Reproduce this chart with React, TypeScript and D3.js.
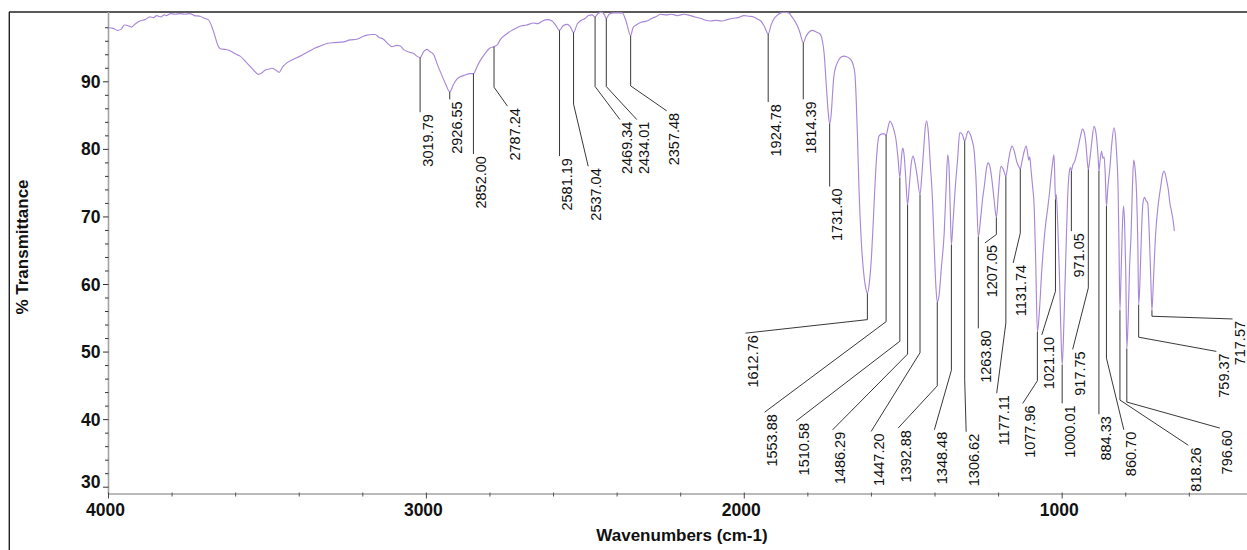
import React from "react";
import * as d3 from "d3";

// IR spectrum: [wavenumber (cm-1), % transmittance]
const spectrum: [number, number][] = [
  [4000, 98.0], [3985, 97.9], [3972, 97.6], [3960, 97.8], [3950, 98.4], [3938, 98.3],
  [3928, 98.1], [3915, 98.6], [3901, 99.0], [3885, 99.2], [3870, 99.6], [3858, 99.5],
  [3849, 99.8], [3835, 99.6], [3825, 99.9], [3817, 99.8], [3805, 100.1], [3790, 100.0],
  [3775, 100.1], [3760, 100.0], [3744, 100.1], [3730, 99.8], [3712, 99.7], [3698, 99.4],
  [3686, 99.2], [3670, 97.5], [3655, 95.3], [3649, 94.9], [3635, 94.8], [3618, 94.6],
  [3600, 94.1], [3586, 93.8], [3565, 92.8], [3545, 91.8], [3529, 91.1], [3518, 91.3],
  [3508, 91.7], [3495, 91.9], [3487, 92.0], [3475, 91.8], [3463, 91.4], [3452, 92.2],
  [3439, 92.8], [3420, 93.3], [3397, 93.8], [3370, 94.5], [3350, 95.0], [3334, 95.3],
  [3310, 95.7], [3290, 95.8], [3261, 95.9], [3240, 96.2], [3219, 96.3], [3200, 96.7],
  [3187, 96.9], [3170, 97.0], [3161, 97.0], [3150, 96.6], [3135, 96.3], [3120, 95.6],
  [3109, 95.2], [3093, 95.4], [3082, 95.3], [3072, 94.8], [3055, 94.4], [3040, 94.2],
  [3030, 93.8], [3019.79, 93.6], [3008, 94.5], [2998, 94.8], [2990, 94.5], [2978, 94.1],
  [2965, 92.5], [2950, 90.8], [2938, 89.5], [2926.55, 88.5], [2915, 89.6], [2904, 90.4],
  [2890, 90.8], [2878, 91.0], [2865, 91.2], [2852.0, 91.2], [2840, 92.3], [2831, 93.1],
  [2815, 94.2], [2800, 95.0], [2787.24, 95.2], [2775, 95.6], [2768, 96.2], [2750, 97.0],
  [2735, 97.5], [2715, 98.0], [2700, 98.3], [2685, 98.4], [2663, 98.7], [2650, 98.6],
  [2635, 99.0], [2620, 99.2], [2605, 99.0], [2595, 98.5], [2581.19, 97.6], [2570, 98.3],
  [2557, 98.5], [2548, 98.2], [2537.04, 97.3], [2525, 98.6], [2516, 99.0], [2500, 99.4],
  [2490, 99.8], [2479, 99.9], [2469.34, 99.6], [2460, 100.1], [2447, 100.3], [2440, 99.9],
  [2434.01, 99.4], [2425, 100.0], [2411, 100.2], [2395, 100.2], [2384, 100.2], [2372, 99.0],
  [2357.48, 96.8], [2350, 98.0], [2340, 98.4], [2325, 98.8], [2306, 99.0], [2290, 99.4],
  [2275, 99.7], [2264, 100.0], [2245, 99.9], [2230, 100.0], [2210, 99.8], [2190, 100.0],
  [2170, 99.8], [2155, 99.6], [2138, 99.4], [2120, 99.1], [2106, 99.0], [2090, 99.1],
  [2070, 99.0], [2054, 99.2], [2035, 99.4], [2020, 99.5], [2001, 99.8], [1985, 99.7],
  [1970, 99.6], [1959, 99.3], [1948, 99.0], [1938, 98.3], [1924.78, 97.1], [1915, 98.5],
  [1907, 99.3], [1895, 99.9], [1885, 100.2], [1875, 100.3], [1860, 100.2], [1850, 99.6],
  [1840, 98.9], [1833, 98.3], [1825, 97.3], [1814.39, 95.8], [1805, 96.8], [1795, 97.4],
  [1785, 97.6], [1775, 97.4], [1765, 97.2], [1760, 97.0], [1754, 96.0], [1749, 94.3],
  [1742, 89.5], [1736, 85.5], [1731.4, 83.8], [1726, 85.5], [1722, 88.5], [1718, 90.9],
  [1710, 92.5], [1702, 93.3], [1694, 93.7], [1686, 93.8], [1678, 93.7], [1670, 93.5],
  [1665, 93.3], [1658, 92.6], [1652, 91.2], [1648, 87.5], [1644, 82.0], [1639, 74.0],
  [1632, 66.5], [1625, 62.0], [1618, 59.5], [1612.76, 58.7], [1606, 60.5], [1600, 64.0],
  [1594, 69.5], [1588, 75.5], [1582, 80.0], [1576, 82.0], [1566, 82.3], [1560, 82.3],
  [1553.88, 82.1], [1547, 83.4], [1542, 84.2], [1536, 83.8], [1529, 82.8], [1523, 81.5],
  [1517, 79.0], [1510.58, 75.8], [1506, 78.5], [1502, 80.2], [1498, 79.5], [1493, 76.5],
  [1486.29, 71.8], [1481, 74.5], [1475, 77.8], [1469, 79.0], [1463, 78.0], [1456, 76.0],
  [1447.2, 73.3], [1441, 76.5], [1435, 80.5], [1430, 83.5], [1426, 84.2], [1421, 82.5],
  [1415, 78.0], [1408, 72.6], [1402, 65.0], [1397, 59.5], [1392.88, 57.4], [1387, 58.5],
  [1380, 62.5], [1371, 67.7], [1365, 74.5], [1360, 79.2], [1356, 77.5], [1352, 71.0],
  [1348.48, 65.9], [1343, 69.5], [1336, 74.5], [1329, 78.5], [1322, 82.5], [1314, 82.2],
  [1306.62, 81.2], [1301, 82.0], [1296, 82.7], [1290, 82.3], [1283, 81.3], [1277, 79.8],
  [1271, 75.5], [1263.8, 67.1], [1256, 70.0], [1250, 72.8], [1245, 74.5], [1238, 77.2],
  [1233, 78.0], [1227, 77.4], [1221, 75.5], [1214, 72.5], [1207.05, 69.9], [1200, 74.0],
  [1193, 77.5], [1187, 77.2], [1182, 76.6], [1177.11, 76.0], [1170, 78.0], [1163, 79.8],
  [1158, 80.5], [1151, 79.8], [1143, 78.2], [1137, 77.5], [1131.74, 77.1], [1126, 78.3],
  [1119, 79.8], [1113, 80.5], [1108, 79.2], [1105, 78.4], [1102, 78.9], [1098, 77.0],
  [1093, 74.5], [1088, 71.5], [1083, 63.0], [1077.96, 53.0], [1071, 56.5], [1065, 61.5],
  [1061, 64.2], [1053, 68.5], [1046, 71.1], [1040, 73.5], [1035, 76.0], [1030, 78.0],
  [1026, 79.2], [1023.5, 76.5], [1021.1, 72.6], [1018.5, 73.3], [1014, 69.0], [1009, 62.0],
  [1004.5, 54.0], [1000.01, 48.1], [996, 52.0], [992, 58.5], [988, 65.0], [983, 72.6],
  [978, 76.5], [974, 77.3], [971.05, 76.8], [967, 77.6], [960, 78.3], [951, 80.0],
  [943, 81.8], [936, 83.0], [930, 82.4], [925, 80.6], [921, 78.3], [917.75, 77.0],
  [913, 78.5], [907, 81.0], [900, 83.4], [895, 82.8], [890, 80.8], [886.5, 78.5],
  [884.33, 76.8], [881, 78.2], [876, 79.7], [872, 78.7], [868, 78.9], [864.5, 76.3],
  [860.7, 71.6], [856, 74.5], [850, 77.2], [844, 80.8], [837, 83.2], [832, 81.8],
  [828, 78.8], [824, 74.0], [821, 65.0], [818.26, 56.2], [815, 61.0], [811, 68.0],
  [807, 71.6], [803.5, 69.0], [800, 62.0], [796.6, 50.5], [792, 55.5], [788, 62.5],
  [783, 67.7], [779, 74.5], [775, 78.4], [771, 77.3], [766, 73.5], [762, 66.0],
  [759.37, 57.0], [756, 59.5], [751, 67.0], [746, 72.0], [741, 72.9], [736, 72.4],
  [731, 72.1], [726, 67.5], [721, 60.5], [717.57, 56.2], [713, 60.5], [706, 67.5],
  [698, 71.8], [690, 74.5], [684, 76.3], [680, 76.8], [676, 76.4], [671, 75.3],
  [666, 74.0], [661, 72.0], [656, 70.8], [651, 69.5], [647, 67.9],
];

// Labelled band positions (cm-1)
const peakWavenumbers = [
  3019.79, 2926.55, 2852.0, 2787.24, 2581.19, 2537.04, 2469.34, 2434.01, 2357.48,
  1924.78, 1814.39, 1731.4, 1612.76, 1553.88, 1510.58, 1486.29, 1447.2, 1392.88,
  1348.48, 1306.62, 1263.8, 1207.05, 1177.11, 1131.74, 1077.96, 1021.1, 1000.01,
  971.05, 917.75, 884.33, 860.7, 818.26, 796.6, 759.37, 717.57,
];

const yMajorTicks = [30, 40, 50, 60, 70, 80, 90];
const xMajorTicks = [4000, 3000, 2000, 1000];

// Leader-line routing for each band label, in data units:
// drop straight down to `elbow` (%T), then run to `to` ([cm-1, %T]) where the text starts.
const leaderLayout: Record<string, { elbow: number; to?: [number, number] }> = {
  "3019.79": { elbow: 85.5 },
  "2926.55": { elbow: 87.4 },
  "2852.00": { elbow: 79.3 },
  "2787.24": { elbow: 89.2, to: [2745, 86.4] },
  "2581.19": { elbow: 79.0 },
  "2537.04": { elbow: 86.7, to: [2491, 77.5] },
  "2469.34": { elbow: 89.3, to: [2391, 84.4] },
  "2434.01": { elbow: 89.3, to: [2338, 84.4] },
  "2357.48": { elbow: 89.4, to: [2244, 85.7] },
  "1924.78": { elbow: 87.0 },
  "1814.39": { elbow: 87.4 },
  "1731.40": { elbow: 74.5 },
  "1612.76": { elbow: 54.8, to: [1996, 52.8] },
  "1553.88": { elbow: 54.5, to: [1936, 41.1] },
  "1510.58": { elbow: 51.6, to: [1837, 39.8] },
  "1486.29": { elbow: 49.7, to: [1722, 38.5] },
  "1447.20": { elbow: 49.9, to: [1601, 38.25] },
  "1392.88": { elbow: 45.0, to: [1516, 38.75] },
  "1348.48": { elbow: 47.3, to: [1402, 38.5] },
  "1306.62": { elbow: 45.9, to: [1302, 38.2] },
  "1263.80": { elbow: 53.5 },
  "1207.05": { elbow: 67.4, to: [1243, 66.15] },
  "1177.11": { elbow: 54.3, to: [1206, 43.9] },
  "1131.74": { elbow: 67.6, to: [1154, 63.2] },
  "1077.96": { elbow: 45.75, to: [1124, 42.4] },
  "1021.10": { elbow: 59.0, to: [1064, 52.55] },
  "1000.01": { elbow: 42.4 },
  "971.05": { elbow: 67.9 },
  "917.75": { elbow: 59.5, to: [967, 50.4] },
  "884.33": { elbow: 40.8 },
  "860.70": { elbow: 49.1, to: [806, 38.5] },
  "818.26": { elbow: 42.9, to: [603, 36.2] },
  "796.60": { elbow: 42.6, to: [504, 38.75] },
  "759.37": { elbow: 52.2, to: [515, 50.1] },
  "717.57": { elbow: 55.3, to: [464, 54.9] },
};

const W = 1247;
const H = 550;
const FONT = "'Liberation Sans', Arial, Helvetica, sans-serif";

export default function App() {
  const x = d3.scaleLinear().domain([4000, 400]).range([108.5, 1252.9]);
  const y = d3.scaleLinear().domain([30, 90]).range([487.2, 81.8]);

  const plotTop = y(100.33);
  const plotBottom = y(28.99);
  const axisX = x(4000);

  const line = d3
    .line<[number, number]>()
    .x((d) => x(d[0]))
    .y((d) => y(d[1]))
    .curve(d3.curveMonotoneX);

  const tAt = new Map(spectrum.map((d) => [d[0], d[1]]));

  const yMinor = d3.range(30, 101, 2).filter((v) => v % 10 !== 0);
  const xMinor = d3.range(4000, 399, -200).filter((v) => v % 1000 !== 0);

  return (
    <svg
      width={W}
      height={H}
      style={{ position: "absolute", left: 0, top: 0, background: "#fff" }}
      fontFamily={FONT}
    >
      <rect x={0} y={0} width={W} height={H} fill="#fff" />
      {/* outer frame */}
      <line x1={9.3} y1={12} x2={9.3} y2={H} stroke="#222" strokeWidth={1.4} />
      <line x1={9} y1={12} x2={W} y2={12} stroke="#222" strokeWidth={1.4} />

      {/* axes */}
      <line x1={axisX} y1={plotTop} x2={axisX} y2={plotBottom} stroke="#a3a3a3" strokeWidth={1.6} />
      <line x1={axisX} y1={plotBottom} x2={W} y2={plotBottom} stroke="#a3a3a3" strokeWidth={1.6} />

      {yMinor.map((v) => (
        <line key={`ym${v}`} x1={axisX - 3.5} x2={axisX} y1={y(v)} y2={y(v)} stroke="#333" strokeWidth={1} />
      ))}
      {yMajorTicks.map((v) => (
        <g key={`yM${v}`}>
          <line x1={axisX - 5.5} x2={axisX} y1={y(v)} y2={y(v)} stroke="#333" strokeWidth={1} />
          <text
            x={axisX - 8}
            y={y(v) + (v === 30 ? 1 : 6)}
            textAnchor="end"
            fontSize={17.5}
            fontWeight="bold"
            fill="#111"
          >
            {v}
          </text>
        </g>
      ))}

      {xMinor.map((v) => (
        <line key={`xm${v}`} x1={x(v)} x2={x(v)} y1={plotBottom - 1.5} y2={plotBottom + 2.5} stroke="#555" strokeWidth={1} />
      ))}
      {xMajorTicks.map((v) => (
        <g key={`xM${v}`}>
          <line x1={x(v)} x2={x(v)} y1={plotBottom - 1.5} y2={plotBottom + 4.5} stroke="#444" strokeWidth={1} />
          <text x={x(v) - 3} y={516} textAnchor="middle" fontSize={17.5} fontWeight="bold" fill="#111">
            {v}
          </text>
        </g>
      ))}

      <text x={682} y={541} textAnchor="middle" fontSize={17} fontWeight="bold" fill="#111">
        Wavenumbers (cm-1)
      </text>
      <text
        transform={`translate(28,247) rotate(-90)`}
        textAnchor="middle"
        fontSize={17}
        fontWeight="bold"
        fill="#111"
      >
        % Transmittance
      </text>

      {/* spectrum */}
      <path d={line(spectrum) ?? ""} fill="none" stroke="#a888d8" strokeWidth={1.15} />

      {/* band labels with leader lines */}
      {peakWavenumbers.map((wn) => {
        const label = wn.toFixed(2);
        const lay = leaderLayout[label];
        const t = tAt.get(wn) ?? 90;
        const px = x(wn);
        const py = y(t);
        const ey = y(lay.elbow);
        const [ax, ay] = lay.to ? [x(lay.to[0]), y(lay.to[1])] : [px, ey];
        const pts = lay.to ? `${px},${py} ${px},${ey} ${ax},${ay}` : `${px},${py} ${px},${ey}`;
        return (
          <g key={label}>
            <polyline points={pts} fill="none" stroke="#222" strokeWidth={0.9} />
            <text
              transform={`translate(${ax + 12.5},${ay + 2}) rotate(-90)`}
              textAnchor="end"
              fontSize={14.5}
              fill="#111"
            >
              {label}
            </text>
          </g>
        );
      })}
    </svg>
  );
}
